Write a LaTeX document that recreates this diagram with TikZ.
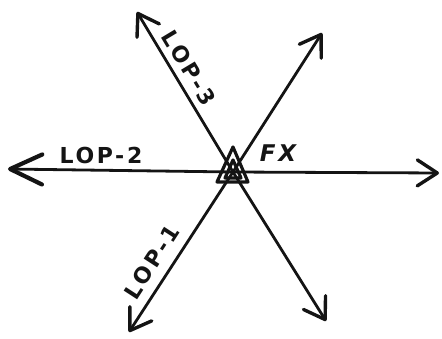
\documentclass[tikz,border=0pt]{standalone}
\usepackage{fontspec}
\newfontfamily\lophand[LetterSpace=12]{DejaVu Sans}
\usetikzlibrary{arrows.meta}
\definecolor{LOPInk}{HTML}{141414}
\tikzset{
  lopline/.style={
    draw=LOPInk,
    line width=2.8pt,
    line cap=round,
    -{Straight Barb[length=20pt,width=26pt,line width=3.4pt,round]}
  },
  lopbig/.style={
    -{Straight Barb[length=32pt,width=30pt,line width=4.2pt,round]}
  },
  loplabel/.style={
    text=LOPInk,
    inner sep=0pt,
    font=\lophand\bfseries\fontsize{22}{22}\selectfont
  },
  lopfix/.style={draw=LOPInk,line width=3.2pt,line join=round}
}

\begin{document}
\begin{tikzpicture}[x=1pt,y=-1pt]
  \useasboundingbox (0,0) rectangle (442,339);
  % fix and the three lines of position through it
  \coordinate (fx) at (233,172);
  \coordinate (lop2w) at (8,169);
  \coordinate (lop2e) at (439,173);
  \coordinate (lop3nw) at (137,12);
  \coordinate (lop3se) at (326,321);
  \coordinate (lop1ne) at (322,33);
  \coordinate (lop1sw) at (129,332);
  \draw[lopline,lopbig] (fx) -- (lop2w);
  \draw[lopline] (fx) -- (lop2e);
  \draw[lopline] (fx) -- (lop3nw);
  \draw[lopline] (fx) -- (lop3se);
  \draw[lopline] (fx) -- (lop1ne);
  \draw[lopline] (fx) -- (lop1sw);
  \draw[lopfix] (233,147) -- (217,182) -- (248,182) -- cycle;
  \draw[lopfix] (233,160) -- (225,178) -- (241,178) -- cycle;
  % labels
  \node[loplabel] (lop2) at (101,155) {LOP-2};
  \node[loplabel,rotate=-59] (lop3) at (189,68) {LOP-3};
  \node[loplabel,rotate=57] (lop1) at (152,262) {LOP-1};
  \node[loplabel,font=\lophand\bfseries\itshape\fontsize{23}{23}\selectfont] (fxlabel) at (278,153) {FX};
\end{tikzpicture}
\end{document}
